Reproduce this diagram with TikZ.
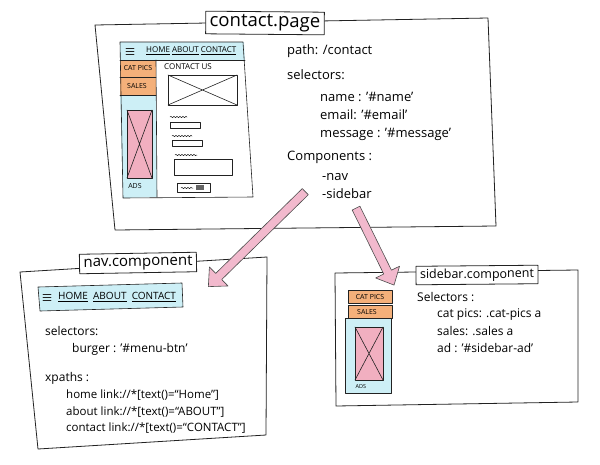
\documentclass[tikz,border=0pt]{standalone}
\usepackage{fontspec}
\setmainfont{Open Sans}
\usetikzlibrary{calc,shapes.arrows,decorations.pathmorphing}
\definecolor{cyanfill}{HTML}{CDEFF6}
\definecolor{orangefill}{HTML}{F4B07A}
\definecolor{pinkfill}{HTML}{F1AFC0}
\definecolor{arrowpink}{HTML}{F2B9CD}
\definecolor{ink}{HTML}{222222}
\begin{document}
\begin{tikzpicture}[x=1pt,y=-1pt, line join=round, line cap=round,
 box/.style={draw=ink, line width=0.8pt},
 ttl/.style={draw=ink, line width=0.8pt, fill=white, inner xsep=4pt, inner ysep=3pt, font=\fontsize{15}{15}\selectfont},
 txt/.style={anchor=west, inner sep=0pt, font=\fontsize{13}{13}\selectfont},
 stxt/.style={anchor=west, inner sep=0pt, font=\fontsize{11}{11}\selectfont},
 wtxt/.style={inner sep=0pt, font=\fontsize{7}{7}\selectfont},
 navtxt/.style={inner sep=0pt, anchor=west, font=\fontsize{10}{10}\selectfont},
 wire/.style={draw=ink, line width=0.6pt},
 wave/.style={draw=ink, line width=0.5pt, decorate, decoration={snake, amplitude=0.7pt, segment length=3pt}},
 fatarrow/.style={single arrow, draw=black!70, line width=0.6pt, fill=arrowpink, inner xsep=0pt, inner ysep=4pt, text height=0pt, text depth=0pt, single arrow head extend=9pt, single arrow tip angle=85}]
\useasboundingbox (0,0) rectangle (600,464);

% ================= contact.page =================
\draw[box] (95,25) -- (488,18) -- (496,226) -- (115,230) -- cycle;
\node[ttl, font=\fontsize{18.5}{18.5}\selectfont, rotate=-0.5] (contactTitle) at (265,23) {contact.page};

% wireframe
\fill[cyanfill] (120,42) -- (244,42) -- (245,60) -- (120,60) -- cycle;
\fill[orangefill] (120,60) rectangle (156,77);
\fill[orangefill] (120,77) rectangle (156,95);
\fill[cyanfill] (120,95) -- (156,95) -- (157,197) -- (123,198) -- cycle;
\draw[wire] (120,60) -- (245,60);
\draw[wire] (120,77) -- (156,77);
\draw[wire] (120,95) -- (156,95);
\draw[wire] (156,60) -- (157,197);
\draw[wire] (120,42) -- (243,42) -- (253,197) -- (123,198) -- cycle;
\draw[wire] (126,48) -- (134,48) (126,51) -- (134,51) (126,54) -- (134,54);
\node[wtxt, anchor=west, font=\fontsize{8}{8}\selectfont] (cHome) at (146,51) {\underline{HOME}\ \underline{ABOUT}\ \underline{CONTACT}};
\node[wtxt] (cCat) at (138,68) {CAT PICS};
\node[wtxt] (cSales) at (137,86) {SALES};
\draw[wire, fill=pinkfill] (127,110) rectangle (152,178);
\draw[wire] (127,110) -- (152,178) (152,110) -- (127,178);
\node[wtxt] (cAds) at (135,186) {ADS};
\node[wtxt, anchor=west, font=\fontsize{8}{8}\selectfont] (cUs) at (164,67) {CONTACT US};
\draw[wire] (168,75) rectangle (237,105);
\draw[wire] (168,75) -- (237,105) (237,75) -- (168,105);
\draw[wave] (170,117) -- (187,117);
\draw[wire] (170,122) rectangle (200,128);
\draw[wave] (172,136) -- (192,136);
\draw[wire] (172,140) rectangle (202,146);
\draw[wave] (175,155) -- (197,155);
\draw[wire] (174,159) rectangle (232,175);
\draw[wire] (177,183) rectangle (210,192);
\draw[wave] (181,188) -- (193,188);
\fill[ink!70] (196,185) rectangle (204,190);

% text
\node[txt] (cPath) at (287,51) {path: /contact};
\node[txt] (cSel) at (287,75) {selectors:};
\node[txt] (cName) at (320,97) {name : '\#name'};
\node[txt] (cEmail) at (320,115) {email: '\#email'};
\node[txt] (cMsg) at (320,134) {message : '\#message'};
\node[txt] (cComp) at (287,157) {Components :};
\node[txt] (cNav) at (322,177) {-nav};
\node[txt] (cSide) at (322,194) {-sidebar};

% ================= nav.component =================
\draw[box] (20,272) -- (267,257) -- (266,435) -- (38,449) -- cycle;
\node[ttl, rotate=1] (navTitle) at (138,263) {nav.component};
\draw[wire, fill=cyanfill] (38,287) -- (182,283) -- (183,307) -- (40,311) -- cycle;
\draw[wire] (43,294) -- (51,294) (43,297) -- (51,297) (43,300) -- (51,300);
\node[navtxt] (nHome) at (58,297) {\underline{HOME}\ \ \underline{ABOUT}\ \ \underline{CONTACT}};
\node[stxt, font=\fontsize{12}{12}\selectfont] (nSel) at (45,331) {selectors:};
\node[stxt, font=\fontsize{12}{12}\selectfont] (nBurger) at (72,349) {burger : '\#menu-btn'};
\node[stxt, font=\fontsize{12}{12}\selectfont] (nX) at (45,378) {xpaths :};
\node[stxt, font=\fontsize{11.5}{11.5}\selectfont] (nHl) at (66,395) {home link://*[text()=``Home'']};
\node[stxt, font=\fontsize{11.5}{11.5}\selectfont] (nAl) at (66,412) {about link://*[text()=``ABOUT'']};
\node[stxt, font=\fontsize{11.5}{11.5}\selectfont] (nCl) at (66,428) {contact link://*[text()=``CONTACT'']};

% ================= sidebar.component =================
\draw[box] (335,273) -- (578,270) -- (578,402) -- (336,406) -- cycle;
\node[ttl, font=\fontsize{12.5}{12.5}\selectfont, rotate=0.5] (sideTitle) at (477,275) {sidebar.component};
\fill[cyanfill] (345,318) rectangle (391,393);
\draw[wire] (345,318) rectangle (391,393);
\draw[wire, fill=orangefill] (348,290) rectangle (392,303);
\draw[wire, fill=orangefill] (348,305) rectangle (392,318);
\node[wtxt] (sCat) at (370,297) {CAT PICS};
\node[wtxt] (sSales) at (367,312) {SALES};
\draw[wire, fill=pinkfill] (355,327) rectangle (383,380);
\draw[wire] (355,327) -- (383,380) (383,327) -- (355,380);
\node[wtxt, font=\fontsize{5.5}{5.5}\selectfont] (sAds) at (361,387) {ADS};
\node[stxt, font=\fontsize{12}{12}\selectfont] (sSel) at (417,297) {Selectors :};
\node[stxt, font=\fontsize{12}{12}\selectfont] (sCat2) at (437,315) {cat pics: .cat-pics a};
\node[stxt, font=\fontsize{12}{12}\selectfont] (sSales2) at (437,331) {sales: .sales a};
\node[stxt, font=\fontsize{12}{12}\selectfont] (sAd) at (437,348) {ad : '\#sidebar-ad'};

% ================= arrows =================
\coordinate (aNavS) at (307,190);
\coordinate (aNavT) at (210,285);
\coordinate (aSideS) at (355,206);
\coordinate (aSideT) at (393,283);
\path let \p1=($(aNavT)-(aNavS)$), \n1={atan2(\y1,\x1)}, \n2={veclen(\x1,\y1)} in
  node[fatarrow, rotate=\n1, minimum height=\n2] (arrowNav) at ($(aNavS)!0.5!(aNavT)$) {};
\path let \p1=($(aSideT)-(aSideS)$), \n1={atan2(\y1,\x1)}, \n2={veclen(\x1,\y1)} in
  node[fatarrow, rotate=\n1, minimum height=\n2] (arrowSide) at ($(aSideS)!0.5!(aSideT)$) {};
\end{tikzpicture}
\end{document}
